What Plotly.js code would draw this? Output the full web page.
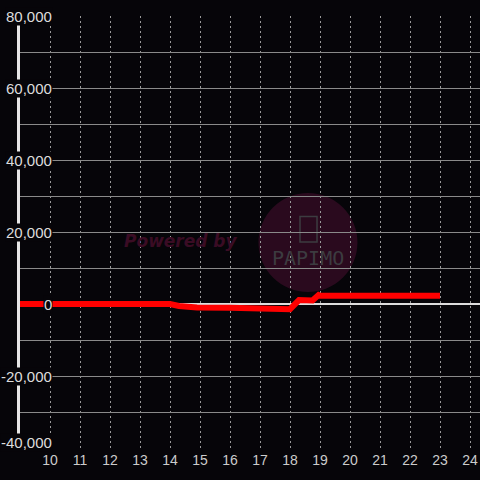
<!DOCTYPE html>
<html><head><meta charset="utf-8">
<script src="https://cdn.plot.ly/plotly-3.0.1.min.js"></script>
<style>html,body{margin:0;padding:0;background:#060509;}</style>
</head><body>
<div id="chart" style="width:480px;height:480px;"></div>
<script>
const xValues = [9, 10, 11, 12, 13, 14, 14.3, 14.9, 16, 17, 18, 18.3, 18.75, 18.95, 19, 20, 21, 22, 23];
const yValues = [0, 0, 0, 0, 0, 0, -550, -950, -1050, -1200, -1450, 1100, 1000, 2500, 2300, 2300, 2300, 2300, 2300];
const yTickValues = [80000, 60000, 40000, 20000, 0, -20000, -40000];
const yTickLabels = ['80,000', '60,000', '40,000', '20,000', '0', '-20,000', '-40,000'];
const xTickValues = [10, 11, 12, 13, 14, 15, 16, 17, 18, 19, 20, 21, 22, 23, 24];

const bg = '#060509';
const annotations = yTickValues.map((v, i) => ({
  xref: 'paper', yref: 'y', x: 0, y: v, xanchor: 'right', yanchor: 'middle',
  xshift: 33, yshift: (i === yTickValues.length - 1) ? 6 : 0,
  text: yTickLabels[i], showarrow: false, bgcolor: bg, borderpad: 0,
  font: {family: 'Liberation Sans, Arial, sans-serif', size: 15, color: '#dddddd'}
}));
annotations.push({
  xref: 'paper', yref: 'paper', x: 0.351, y: 0.479, text: '<b><i>Powered by</i></b>',
  showarrow: false, font: {family: 'DejaVu Sans, sans-serif', size: 17, color: '#3a0c24'}
});
annotations.push({
  xref: 'paper', yref: 'paper', x: 0.626, y: 0.44, text: 'PAPIMO',
  showarrow: false, font: {family: 'DejaVu Sans Mono, monospace', size: 20, color: '#3c3c40'}
});

const layout = {
  width: 480, height: 480,
  margin: {l: 20, r: 0, t: 16, b: 32},
  paper_bgcolor: bg, plot_bgcolor: bg,
  showlegend: false,
  xaxis: {
    range: [9, 24.333], tickvals: xTickValues, ticks: '', showline: false, zeroline: false,
    showgrid: true, gridcolor: '#9a9a9a', gridwidth: 1, griddash: '2px,3px',
    tickfont: {family: 'Liberation Sans, Arial, sans-serif', size: 14, color: '#cccccc'},
    ticklabelstandoff: 2,
    fixedrange: true
  },
  yaxis: {
    range: [-40000, 80000], dtick: 10000, tick0: 0, showticklabels: false, ticks: '',
    showgrid: true, gridcolor: '#8a8a8a', gridwidth: 1,
    zeroline: true, zerolinecolor: '#dddddd', zerolinewidth: 2,
    showline: true, linecolor: '#e6e6e6', linewidth: 3,
    fixedrange: true
  },
  shapes: [
    {type: 'circle', xref: 'paper', yref: 'paper', layer: 'below',
     x0: 0.626 - 0.1076, x1: 0.626 + 0.1076, y0: 0.4757 - 0.1146, y1: 0.4757 + 0.1146,
     fillcolor: '#2a0a1e', line: {width: 0}},
    {type: 'rect', xref: 'paper', yref: 'paper', layer: 'below',
     x0: 0.6087, x1: 0.6457, y0: 0.4769, y1: 0.536,
     fillcolor: 'rgba(0,0,0,0)', line: {color: '#3c3c40', width: 1.5}}
  ],
  annotations: annotations
};

const trace = {
  x: xValues, y: yValues, type: 'scatter', mode: 'lines',
  line: {color: '#ff0000', width: 6}, hoverinfo: 'none'
};

Plotly.newPlot('chart', [trace], layout, {displayModeBar: false, staticPlot: true});
</script>
</body></html>
